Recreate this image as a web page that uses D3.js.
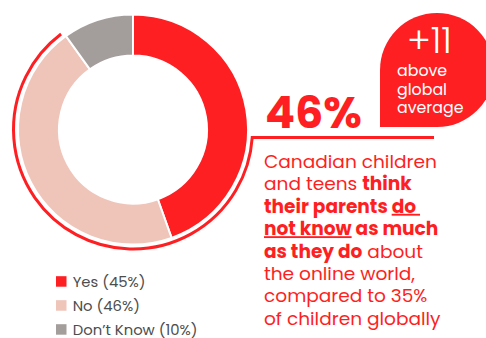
<!DOCTYPE html>
<html>
<head>
<meta charset="utf-8">
<script src="https://cdn.jsdelivr.net/npm/d3@7"></script>
<style>
  body { margin: 0; background: #fff; }
  svg { display: block; }
</style>
</head>
<body>
<div id="chart"></div>
<script>
// donut chart: do parents know as much about the online world

// data
const categories = ["Yes", "No", "Don’t Know"];
const values = [45, 46, 10];
const legendLabels = ["Yes (45%)", "No (46%)", "Don’t Know (10%)"];
const headline = "46%";
const bubbleLines = ["+11", "above", "global", "average"];

// colours and sizes
const w = 486, h = 338;
const red = "#fe1f23";
const colors = [red, "#efc4b9", "#a39e9c"];
const fontFamily = "Poppins, 'Open Sans', sans-serif";
const cx = 133, cy = 129.5;
const outerR = 115, innerR = 74;

const svg = d3.select("#chart")
  .append("svg")
  .attr("width", w)
  .attr("height", h);

// scale the font so a text runs to the wanted width
function fitWidth(sel, target) {
  const size = parseFloat(sel.attr("font-size"));
  const len = sel.node().getComputedTextLength();
  sel.attr("font-size", size * target / len);
}

// donut
const pie = d3.pie().sort(null).value(d => d);
const arc = d3.arc().innerRadius(innerR).outerRadius(outerR);

svg.append("g")
  .attr("transform", `translate(${cx},${cy})`)
  .selectAll("path")
  .data(pie(values))
  .join("path")
    .attr("d", arc)
    .attr("fill", (d, i) => colors[i])
    .attr("stroke", "#fff")
    .attr("stroke-width", 2);

// thin red highlight round the donut, running into the text rule
const ringR = outerR + 4.5;
const ruleY = 137.5;
const ringEnd = 323 / 180 * Math.PI - Math.PI / 2; // top left end
const ringStart = Math.asin((ruleY - cy) / ringR);
const hl = d3.path();
hl.moveTo(434, ruleY);
hl.lineTo(cx + ringR * Math.cos(ringStart), ruleY);
hl.arc(cx, cy, ringR, ringStart, ringEnd, false);
svg.append("path")
  .attr("d", hl.toString())
  .attr("fill", "none")
  .attr("stroke", red)
  .attr("stroke-width", 3);

// red bubble with square bottom-left corner
const bx = 437, by = 70, br = 57;
const bubble = d3.path();
bubble.moveTo(bx - br, by + br);
bubble.lineTo(bx - br, by);
bubble.arc(bx, by, br, Math.PI, Math.PI / 2, false);
bubble.closePath();
svg.append("path")
  .attr("d", bubble.toString())
  .attr("fill", red);

const plus = svg.append("text")
  .attr("x", 407).attr("y", 53)
  .attr("font-family", fontFamily)
  .attr("font-weight", 300)
  .attr("font-size", 34)
  .attr("fill", "#fff")
  .text(bubbleLines[0]);
fitWidth(plus, 45);

const bubbleText = svg.append("text")
  .attr("font-family", fontFamily)
  .attr("font-size", 15)
  .attr("fill", "#fff");
bubbleText.selectAll("tspan")
  .data(bubbleLines.slice(1))
  .join("tspan")
    .attr("x", 397)
    .attr("y", (d, i) => 76 + i * 18.5)
    .text(d => d);
// fit on the widest line
{
  const t = bubbleText.select("tspan:last-child").node();
  const s = 15 * 66.5 / t.getComputedTextLength();
  bubbleText.attr("font-size", s);
}

// headline number
const big = svg.append("text")
  .attr("x", 265).attr("y", 128)
  .attr("font-family", fontFamily)
  .attr("font-weight", 700)
  .attr("font-size", 46)
  .attr("fill", red)
  .text(headline);
fitWidth(big, 97);

// paragraph, each line as runs of [text, bold, underline]
const paragraph = [
  [["Canadian children", 0, 0]],
  [["and teens ", 0, 0], ["think", 1, 0]],
  [["their parents ", 1, 0], ["do ", 1, 1]],
  [["not know", 1, 1], [" as much", 1, 0]],
  [["as they do", 1, 0], [" about", 0, 0]],
  [["the online world,", 0, 0]],
  [["compared to 35%", 0, 0]],
  [["of children globally", 0, 0]]
];

const para = svg.append("text")
  .attr("font-family", fontFamily)
  .attr("font-size", 17)
  .attr("fill", red)
  .attr("xml:space", "preserve")
  .style("white-space", "pre");

paragraph.forEach((line, i) => {
  line.forEach((run, j) => {
    const t = para.append("tspan")
      .attr("font-weight", run[1] ? 700 : 400)
      .attr("text-decoration", run[2] ? "underline" : null)
      .text(run[0]);
    if (j === 0) t.attr("x", 264).attr("y", 168 + i * 22.4);
  });
});

// fit the paragraph on its first line
{
  const first = para.select("tspan").node();
  const s = 17 * 173 / first.getComputedTextLength();
  para.attr("font-size", s);
}

// legend
const legend = svg.append("g")
  .selectAll("g")
  .data(categories)
  .join("g")
    .attr("transform", (d, i) => `translate(56,${276.2 + i * 24})`);

legend.append("rect")
  .attr("width", 10.5)
  .attr("height", 10.5)
  .attr("fill", (d, i) => colors[i]);

const legendText = legend.append("text")
  .attr("x", 16.7)
  .attr("y", 10.3)
  .attr("font-family", fontFamily)
  .attr("font-size", 14)
  .attr("fill", "#4d4d4d")
  .text((d, i) => legendLabels[i]);

// fit legend on the first label
{
  const s = 14 * 73 / legendText.node().getComputedTextLength();
  legendText.attr("font-size", s);
}
</script>
</body>
</html>
